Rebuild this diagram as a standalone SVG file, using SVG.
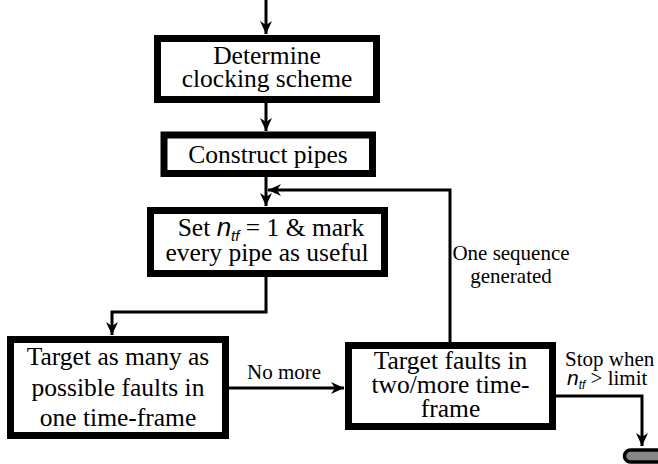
<svg xmlns="http://www.w3.org/2000/svg" width="658" height="464" viewBox="0 0 658 464">
  <style>
    .box { fill: #fff; stroke: #000; stroke-width: 7; }
    .txt { font-family: "Liberation Serif", "Times New Roman", serif; font-size: 25.5px; fill: #000; text-anchor: middle; }
    .lbl { font-family: "Liberation Serif", "Times New Roman", serif; font-size: 21px; fill: #000; }
    .var { font-family: "Liberation Sans", Arial, sans-serif; font-style: italic; }
    .wire { fill: none; stroke: #000; stroke-width: 3; }
  </style>
  <defs>
    <marker id="arrow" markerUnits="userSpaceOnUse" markerWidth="14" markerHeight="14" viewBox="0 0 14 14" refX="13" refY="7" orient="auto">
      <path d="M0,1 L13,7 L0,13 L4,7 Z" fill="#000"/>
    </marker>
  </defs>

  <g id="connectors">
    <path class="wire" d="M266,0 V34" marker-end="url(#arrow)"/>
    <path class="wire" d="M266,103 V131" marker-end="url(#arrow)"/>
    <path class="wire" d="M266,177 V206" marker-end="url(#arrow)"/>
    <path class="wire" d="M450,342 V190 H268" marker-end="url(#arrow)"/>
    <path class="wire" d="M266,277 V312 H112 V335" marker-end="url(#arrow)"/>
    <path class="wire" d="M229,388 H344" marker-end="url(#arrow)"/>
    <path class="wire" d="M556,396 H642 V446" marker-end="url(#arrow)"/>
  </g>

  <g id="determine-clocking">
    <rect class="box" x="157.5" y="38.5" width="219" height="61"/>
    <text class="txt" x="267" y="64">Determine</text>
    <text class="txt" x="267" y="87">clocking scheme</text>
  </g>

  <g id="construct-pipes">
    <rect class="box" x="164" y="135" width="208.5" height="38.5"/>
    <text class="txt" x="268" y="163">Construct pipes</text>
  </g>

  <g id="set-ntf">
    <rect class="box" x="150.5" y="210.5" width="234" height="63"/>
    <text class="txt" x="271" y="236">Set <tspan class="var" font-size="26">n</tspan><tspan class="var" font-size="15" dy="5">tf</tspan><tspan dy="-5"> = 1 &amp; mark</tspan></text>
    <text class="txt" x="267" y="261">every pipe as useful</text>
  </g>

  <g id="target-one-frame">
    <rect class="box" x="10.5" y="339.5" width="215" height="96"/>
    <text class="txt" x="118" y="365">Target as many as</text>
    <text class="txt" x="118" y="396">possible faults in</text>
    <text class="txt" x="118" y="426">one time-frame</text>
  </g>

  <g id="target-multi-frame">
    <rect class="box" x="348.5" y="345.5" width="204" height="81"/>
    <text class="txt" x="450.5" y="369">Target faults in</text>
    <text class="txt" x="450.5" y="393">two/more time-</text>
    <text class="txt" x="450.5" y="417">frame</text>
  </g>

  <g id="stop">
    <rect x="624.5" y="450" width="42" height="12" rx="6" fill="#888" stroke="#000" stroke-width="3.5"/>
  </g>

  <g id="labels">
    <text class="lbl" x="247" y="379">No more</text>
    <text class="lbl" x="511" y="260" text-anchor="middle">One sequence</text>
    <text class="lbl" x="511" y="283" text-anchor="middle">generated</text>
    <text class="lbl" x="565" y="366">Stop when</text>
    <text class="lbl" x="567" y="385"><tspan class="var">n</tspan><tspan class="var" font-size="12" dy="4">tf</tspan><tspan dy="-4"> &gt; limit</tspan></text>
  </g>
</svg>
